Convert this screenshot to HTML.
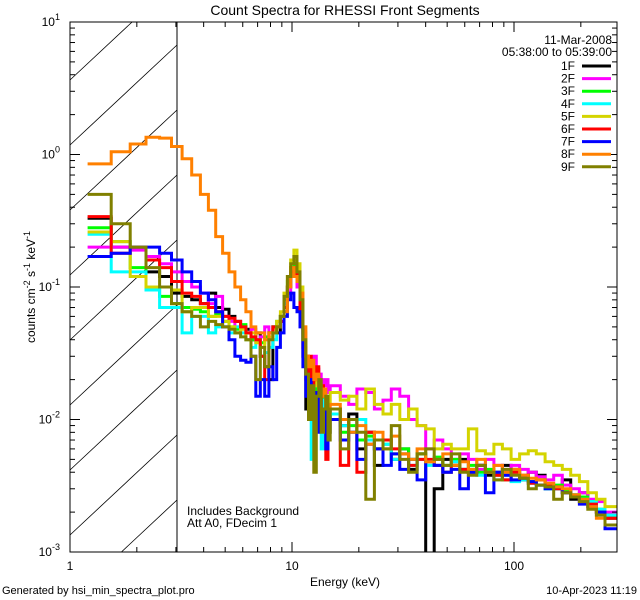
<!DOCTYPE html>
<html><head><meta charset="utf-8">
<style>
html,body{margin:0;padding:0;background:#fff;width:640px;height:600px;overflow:hidden;}
svg{display:block;font-family:"Liberation Sans",sans-serif;}
</style></head>
<body>
<svg id="chart" width="640" height="600" viewBox="0 0 640 600" xmlns="http://www.w3.org/2000/svg">
<rect width="640" height="600" fill="#fff"/>
<defs><clipPath id="plotclip"><rect x="70" y="22" width="547" height="530"/></clipPath></defs>
<g id="hatch"></g>
<line x1="177" y1="22" x2="177" y2="552" stroke="#000" stroke-width="1"/>
<g id="series" clip-path="url(#plotclip)"></g>
<rect x="70" y="22" width="547" height="530" fill="none" stroke="#000" stroke-width="1"/>
<g id="axes"></g>
<text x="345" y="15" font-size="14" text-anchor="middle">Count Spectra for RHESSI Front Segments</text>
<text x="612" y="44" font-size="12" text-anchor="end">11-Mar-2008</text>
<text x="612" y="56" font-size="12" text-anchor="end">05:38:00 to 05:39:00</text>
<g id="legend"></g>
<text x="187" y="515" font-size="12">Includes Background</text>
<text x="187" y="527" font-size="12">Att A0, FDecim 1</text>
<text x="345" y="586" font-size="12" text-anchor="middle">Energy (keV)</text>
<text transform="translate(35,287) rotate(-90)" font-size="12" text-anchor="middle">counts cm<tspan font-size="9" dy="-5">-2</tspan><tspan dy="5"> s</tspan><tspan font-size="9" dy="-5">-1</tspan><tspan dy="5"> keV</tspan><tspan font-size="9" dy="-5">-1</tspan></text>
<text x="2" y="594" font-size="11">Generated by hsi_min_spectra_plot.pro</text>
<text x="637" y="594" font-size="11" text-anchor="end">10-Apr-2023 11:19</text>
</svg>
<script>
const lowEdgesStart = 1.2, lowEdgeStep = 1/3, lowEdgeCount = 42;
const highEdges = [16.5,18,19.6,21.5,23.5,25.7,28,30.6,33.5,36.6,40,43.7,47.8,52.2,57,62.3,68,74.3,81.2,88.7,97,106,116,126,138,151,165,180,197,215,235,257,290];
const segLabels = ["1F","2F","3F","4F","5F","6F","7F","8F","9F"];
const segColors = ["#000000","#ff00ff","#00ff00","#00ffff","#d4d400","#ff0000","#0000ff","#ff8000","#808000"];
const s1F = [0.33,0.2,0.2,0.13,0.12,0.09,0.085,0.08,0.075,0.09,0.07,0.068,0.06,0.055,0.05,0.048,0.04,0.045,0.03,0.025,0.02,0.05,0.045,0.06,0.07,0.1,0.14,0.15,0.13,0.06,0.03,0.012,0.025,0.02,0.013,0.02,0.015,0.01,0.016,0.012,0.008,
 0.012,0.009,0.011,0.006,0.008,0.0045,0.007,0.005,0.006,0.0042,0.0055,0.0009,0.003,0.005,0.0045,0.005,0.004,0.0045,0.0038,0.004,0.0045,0.0042,0.0035,0.004,0.0038,0.0032,0.003,0.0035,0.0025,0.0028,0.0024,0.002,0.0018];
const s2F = [0.2,0.2,0.19,0.17,0.15,0.13,0.11,0.1,0.09,0.075,0.085,0.06,0.055,0.05,0.05,0.045,0.048,0.04,0.042,0.05,0.045,0.048,0.05,0.055,0.07,0.09,0.12,0.15,0.1,0.08,0.045,0.03,0.025,0.028,0.03,0.024,0.022,0.02,0.018,0.02,0.016,
 0.018,0.015,0.013,0.017,0.016,0.012,0.014,0.017,0.015,0.01,0.009,0.006,0.007,0.006,0.005,0.0055,0.005,0.0042,0.005,0.0045,0.004,0.0045,0.0042,0.004,0.0037,0.0035,0.0038,0.0032,0.003,0.0028,0.0025,0.0024,0.002];
const s3F = [0.28,0.22,0.14,0.1,0.085,0.075,0.07,0.068,0.065,0.06,0.062,0.055,0.05,0.048,0.052,0.045,0.04,0.04,0.038,0.042,0.045,0.05,0.055,0.06,0.08,0.11,0.14,0.15,0.12,0.08,0.04,0.025,0.02,0.022,0.015,0.018,0.016,0.013,0.015,0.012,0.01,
 0.011,0.008,0.009,0.007,0.0075,0.006,0.0065,0.0055,0.006,0.005,0.0055,0.0048,0.0052,0.0045,0.005,0.0042,0.0045,0.004,0.0042,0.0038,0.0035,0.004,0.0036,0.0034,0.0035,0.003,0.0032,0.0029,0.0027,0.0026,0.0024,0.0021,0.0019];
const s4F = [0.25,0.13,0.13,0.095,0.07,0.07,0.045,0.06,0.06,0.045,0.05,0.05,0.045,0.05,0.045,0.04,0.035,0.04,0.03,0.032,0.035,0.04,0.05,0.06,0.075,0.1,0.13,0.14,0.12,0.07,0.04,0.02,0.024,0.005,0.018,0.02,0.015,0.006,0.014,0.012,0.01,
 0.011,0.009,0.008,0.01,0.007,0.006,0.0065,0.005,0.0055,0.0045,0.005,0.0045,0.0045,0.004,0.0048,0.0042,0.0042,0.0038,0.004,0.0035,0.0038,0.0034,0.0035,0.0033,0.0032,0.003,0.003,0.0028,0.0027,0.0025,0.0024,0.0021,0.0019];
const s5F = [0.26,0.22,0.12,0.1,0.1,0.095,0.065,0.07,0.07,0.06,0.06,0.055,0.05,0.045,0.048,0.04,0.045,0.038,0.035,0.04,0.042,0.048,0.055,0.065,0.09,0.12,0.16,0.19,0.15,0.1,0.05,0.03,0.025,0.02,0.022,0.018,0.015,0.017,0.015,0.014,0.013,
 0.016,0.014,0.015,0.012,0.017,0.013,0.011,0.013,0.01,0.012,0.009,0.0085,0.006,0.0065,0.006,0.006,0.0085,0.0058,0.0055,0.0065,0.006,0.005,0.0055,0.0058,0.0055,0.0048,0.0045,0.0042,0.0038,0.0034,0.0028,0.0025,0.0022];
const s6F = [0.34,0.18,0.2,0.16,0.14,0.11,0.09,0.085,0.075,0.07,0.065,0.06,0.058,0.055,0.05,0.045,0.042,0.04,0.03,0.02,0.045,0.05,0.05,0.055,0.07,0.1,0.13,0.14,0.12,0.06,0.035,0.02,0.03,0.015,0.02,0.025,0.01,0.018,0.015,0.005,0.012,
 0.012,0.0045,0.01,0.004,0.008,0.006,0.007,0.006,0.0055,0.0045,0.005,0.005,0.0045,0.004,0.0045,0.0042,0.004,0.0045,0.004,0.0038,0.0035,0.004,0.0038,0.0033,0.0035,0.0032,0.003,0.0028,0.0026,0.0024,0.0023,0.002,0.0018];
const s7F = [0.17,0.18,0.2,0.2,0.18,0.16,0.13,0.11,0.09,0.08,0.065,0.05,0.04,0.03,0.028,0.027,0.03,0.015,0.02,0.015,0.025,0.02,0.035,0.045,0.06,0.08,0.09,0.07,0.065,0.05,0.025,0.015,0.02,0.012,0.016,0.008,0.015,0.01,0.012,0.006,0.01,
 0.01,0.007,0.008,0.005,0.0065,0.006,0.0045,0.0055,0.0042,0.005,0.0035,0.0048,0.0045,0.004,0.0042,0.003,0.004,0.0045,0.0028,0.004,0.0038,0.0035,0.0036,0.0034,0.0032,0.003,0.0031,0.0028,0.0026,0.0023,0.0022,0.002,0.0015];
const s8F = [0.85,1.05,1.2,1.35,1.33,1.15,0.93,0.7,0.5,0.38,0.24,0.18,0.13,0.1,0.08,0.065,0.05,0.045,0.045,0.04,0.045,0.045,0.05,0.06,0.065,0.1,0.14,0.12,0.11,0.09,0.05,0.03,0.025,0.028,0.02,0.022,0.018,0.015,0.017,0.014,0.012,
 0.013,0.01,0.008,0.009,0.0065,0.008,0.006,0.0075,0.0055,0.005,0.006,0.0048,0.005,0.0055,0.0045,0.0048,0.0042,0.005,0.004,0.0045,0.004,0.0042,0.0038,0.0036,0.0035,0.0033,0.0031,0.003,0.0027,0.0025,0.0022,0.0018,0.0016];
const s9F = [0.5,0.3,0.2,0.14,0.1,0.075,0.065,0.06,0.05,0.055,0.052,0.05,0.048,0.045,0.042,0.04,0.03,0.02,0.035,0.025,0.04,0.045,0.05,0.06,0.085,0.12,0.15,0.17,0.13,0.08,0.04,0.022,0.01,0.018,0.004,0.015,0.02,0.008,0.012,0.015,0.007,
 0.012,0.006,0.01,0.008,0.0025,0.007,0.006,0.009,0.005,0.004,0.0055,0.006,0.005,0.0045,0.0055,0.004,0.0038,0.0045,0.004,0.0035,0.0042,0.0038,0.0036,0.003,0.0032,0.0031,0.0025,0.0028,0.0026,0.0024,0.0021,0.0019,0.0016];
const seriesValues = [s1F,s2F,s3F,s4F,s5F,s6F,s7F,s8F,s9F];
const xTickLabels = ["1","10","100"];
const yTickExps = ["1","0","-1","-2","-3"];

const NS="http://www.w3.org/2000/svg";
const L=70,R=617,T=22,B=552,DEC_X=222,DEC_Y=132.5;
function xs(e){return L+Math.log10(e)*DEC_X;}
function ys(v){return Math.min(B+4, T+(1-Math.log10(v))*DEC_Y);}
function mk(tag,attrs,parent){const el=document.createElementNS(NS,tag);for(const k in attrs)el.setAttribute(k,attrs[k]);parent.appendChild(el);return el;}

const edges=[];
for(let k=0;k<lowEdgeCount;k++)edges.push(lowEdgesStart+k*lowEdgeStep);
highEdges.forEach(e=>edges.push(e));

// hatch: lines of slope dy/dx = -100/107 clipped analytically to the box
const hatch=document.getElementById('hatch');
const HX0=70,HX1=177,slope=100/107;
for(let i=-2;i<12;i++){
  const yAtLeft=600-i*65; // y at x=70
  let pts=[];
  // param by x
  let xa=HX0, ya=yAtLeft, xb=HX1, yb=yAtLeft-(HX1-HX0)*slope;
  // clip to y range [T,B]
  if(ya>B){xa=HX0+(ya-B)/slope;ya=B;}
  if(yb<T){xb=HX0+(yAtLeft-T)/slope;yb=T;}
  if(xa>=xb||ya<T||yb>B)continue;
  const ln=mk('line',{x1:xa.toFixed(1),y1:ya.toFixed(1),x2:xb.toFixed(1),y2:yb.toFixed(1),stroke:'#000','stroke-width':0.8},hatch);
  
  
}

const sg=document.getElementById('series');
seriesValues.forEach((vals,si)=>{
  let d='M'+xs(edges[0]).toFixed(1)+' '+ys(vals[0]).toFixed(1);
  for(let i=0;i<vals.length;i++){
    d+=' H'+xs(edges[i+1]).toFixed(1);
    if(i+1<vals.length)d+=' V'+ys(vals[i+1]).toFixed(1);
  }
  const p=mk('path',{d:d,fill:'none',stroke:segColors[si],'stroke-width':3,'stroke-linejoin':'miter'},sg);
  
  
});

const ax=document.getElementById('axes');
for(let dec=0;dec<3;dec++){
  for(let m=1;m<10;m++){
    const e=Math.pow(10,dec)*m; const x=xs(e); if(x>R)break;
    const len=m===1?10:5;
    mk('line',{x1:x,y1:B,x2:x,y2:B-len,stroke:'#000'},ax);
    mk('line',{x1:x,y1:T,x2:x,y2:T+len,stroke:'#000'},ax);
  }
}
xTickLabels.forEach((lab,i)=>{
  const t=mk('text',{x:xs(Math.pow(10,i)),y:570,'font-size':12,'text-anchor':'middle'},ax);
  t.textContent=lab;
  
  
});
for(let dec=-3;dec<1;dec++){
  for(let m=1;m<10;m++){
    const v=Math.pow(10,dec)*m; const y=ys(v);
    const len=m===1?10:5;
    mk('line',{x1:L,y1:y,x2:L+len,y2:y,stroke:'#000'},ax);
    mk('line',{x1:R,y1:y,x2:R-len,y2:y,stroke:'#000'},ax);
  }
}
yTickExps.forEach(ex=>{
  const y=ys(Math.pow(10,Number(ex)));
  const t=mk('text',{x:60,y:y+4,'font-size':12,'text-anchor':'end'},ax);
  
  
  const b=document.createElementNS(NS,'tspan');b.textContent='10';t.appendChild(b);
  const s=document.createElementNS(NS,'tspan');s.setAttribute('font-size','9');s.setAttribute('dy','-6');s.textContent=ex;t.appendChild(s);
});

const lg=document.getElementById('legend');
segLabels.forEach((lab,i)=>{
  const y=66+i*12.6;
  const g=mk('g',{},lg);
  
  
  const t=mk('text',{x:575,y:y+4,'font-size':12,'text-anchor':'end'},g);t.textContent=lab;
  mk('line',{x1:582,y1:y,x2:611,y2:y,stroke:segColors[i],'stroke-width':3},g);
});
</script>
</body></html>
